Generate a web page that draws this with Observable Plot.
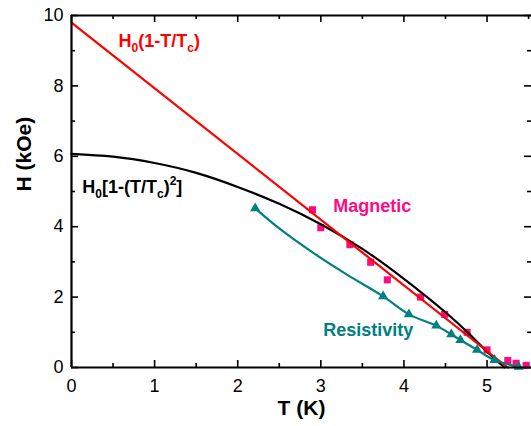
<!DOCTYPE html>
<html><head><meta charset="utf-8">
<script src="https://cdn.jsdelivr.net/npm/d3@7"></script>
<script src="https://cdn.jsdelivr.net/npm/@observablehq/plot@0.6"></script>
<style>body{margin:0;background:#fff;overflow:hidden}</style>
</head><body><div id="chart"></div>
<script>
// ---- data ----
const magneticT = [2.90, 3.00, 3.35, 3.60, 3.80, 4.20, 4.49, 4.76, 5.00, 5.25, 5.35, 5.47];
const magneticH = [4.48, 3.97, 3.49, 2.99, 2.49, 2.00, 1.51, 1.00, 0.50, 0.20, 0.12, 0.06];

const resistT = [2.21, 3.75, 4.06, 4.39, 4.57, 4.68, 4.88, 5.09, 5.38];
const resistH = [4.52, 2.02, 1.51, 1.19, 0.94, 0.78, 0.50, 0.21, 0.02];

const resistFitT = [2.21, 2.50, 2.90, 3.30, 3.75, 4.06, 4.39, 4.57, 4.68, 4.88, 5.09, 5.38];
const resistFitH = [4.52, 3.95, 3.27, 2.66, 2.02, 1.51, 1.19, 0.94, 0.78, 0.50, 0.21, 0.02];

const linearT = [0, 5.25];
const linearH = [9.8, 0];

const parabolicT = [0, 0.5, 1.0, 1.5, 2.0, 2.5, 3.0, 3.5, 4.0, 4.5, 4.8, 5.0, 5.21];
const parabolicH = [6.07, 5.99, 5.81, 5.53, 5.13, 4.65, 4.07, 3.37, 2.52, 1.57, 0.92, 0.45, 0];

const xTicks = [0, 1, 2, 3, 4, 5];
const xMinor = [0.5, 1.5, 2.5, 3.5, 4.5, 5.5];
const yTicks = [0, 2, 4, 6, 8, 10];
const yMinor = [1, 3, 5, 7, 9];

const zip = (a, b) => a.map((v, i) => ({x: v, y: b[i]}));
const magnetic = zip(magneticT, magneticH);
const resist = zip(resistT, resistH);
const resistFit = zip(resistFitT, resistFitH);
const linear = zip(linearT, linearH);
const parabolic = zip(parabolicT, parabolicH);

// ---- layout ----
const W = 531, H = 426, mL = 71, mR = 0, mT = 15, mB = 59;
const fw = W - mL - mR, fh = H - mT - mB;
const majorLen = 7, minorLen = 4;
const RED = "#ff0000", PINK = "#ff0a84", TEAL = "#008080";

const plot = Plot.plot({
  width: W, height: H,
  marginLeft: mL, marginRight: mR, marginTop: mT, marginBottom: mB,
  style: {fontFamily: "'Liberation Sans', Arial, sans-serif", fontSize: "18px", background: "#fff", color: "#000", overflow: "visible"},
  x: {domain: [0, 5.535], ticks: xTicks, tickFormat: d => String(d), tickSize: 0, tickPadding: 12, label: null},
  y: {domain: [0, 10], ticks: yTicks, tickFormat: d => String(d), tickSize: 0, tickPadding: 8, label: null},
  marks: [
    // inward ticks
    Plot.ruleX(xTicks, {x: d => d, insetTop: fh - majorLen, strokeWidth: 1.6}),
    Plot.ruleX(xMinor, {x: d => d, insetTop: fh - minorLen, strokeWidth: 1.6}),
    Plot.ruleX(xTicks, {x: d => d, insetBottom: fh - majorLen, strokeWidth: 1.6}),
    Plot.ruleX(xMinor, {x: d => d, insetBottom: fh - minorLen, strokeWidth: 1.6}),
    Plot.ruleY(yTicks, {y: d => d, insetRight: fw - majorLen, strokeWidth: 1.6}),
    Plot.ruleY(yMinor, {y: d => d, insetRight: fw - minorLen, strokeWidth: 1.6}),
    Plot.ruleY(yTicks, {y: d => d, insetLeft: fw - majorLen, strokeWidth: 1.6}),
    Plot.ruleY(yMinor, {y: d => d, insetLeft: fw - minorLen, strokeWidth: 1.6}),
    // data
    Plot.dot(magnetic, {x: "x", y: "y", symbol: "square", r: 4, fill: PINK, stroke: null}),
    Plot.line(parabolic, {x: "x", y: "y", stroke: "#000", strokeWidth: 2.2, curve: "natural"}),
    Plot.line(linear, {x: "x", y: "y", stroke: RED, strokeWidth: 2.2}),
    Plot.line(resistFit, {x: "x", y: "y", stroke: TEAL, strokeWidth: 2.2, curve: "catmull-rom"}),
    Plot.dot(resist, {x: "x", y: "y", symbol: "triangle", r: 3.8, fill: TEAL, stroke: null}),
    // frame (left, bottom, top)
    Plot.ruleX([0], {strokeWidth: 2.2}),
    Plot.ruleY([0, 10], {strokeWidth: 2.2}),
    // annotations
    Plot.text(["H0(1-T/Tc)"], {x: 0.566, y: 9.27, text: d => d, textAnchor: "start", fill: RED, fontSize: 18, fontWeight: "bold"}),
    Plot.text(["H0[1-(T/Tc)^2]"], {x: 0.13, y: 5.13, text: d => d, textAnchor: "start", fill: "#000", fontSize: 18, fontWeight: "bold"}),
    Plot.text(["Magnetic"], {x: 3.15, y: 4.58, text: d => d, textAnchor: "start", fill: PINK, fontSize: 18, fontWeight: "bold"}),
    Plot.text(["Resistivity"], {x: 3.03, y: 1.07, text: d => d, textAnchor: "start", fill: TEAL, fontSize: 18, fontWeight: "bold"}),
    // axis titles
    Plot.text(["T (K)"], {frameAnchor: "bottom", dy: 47, text: d => d, fontSize: 21, fontWeight: "bold", fill: "#000"}),
    Plot.text(["H (kOe)"], {frameAnchor: "left", dx: -47, rotate: -90, text: d => d, fontSize: 21, fontWeight: "bold", fill: "#000"})
  ]
});

// rich text (subscripts / superscripts)
const rich = {
  "H0(1-T/Tc)": [["H"], ["0", "sub"], ["(1-T/T"], ["c", "sub"], [")"]],
  "H0[1-(T/Tc)^2]": [["H"], ["0", "sub"], ["[1-(T/T"], ["c", "sub"], [")"], ["2", "sup"], ["]"]]
};
d3.select(plot).selectAll("text").each(function() {
  const parts = rich[this.textContent];
  if (!parts) return;
  const t = d3.select(this);
  t.text(null);
  let shift = 0;
  for (const [s, kind] of parts) {
    const target = kind === "sub" ? 5 : kind === "sup" ? -8 : 0;
    const ts = t.append("tspan").text(s).attr("dy", target - shift);
    if (kind) ts.attr("font-size", 12);
    shift = target;
  }
});

document.getElementById("chart").appendChild(plot);
</script>
</body></html>
